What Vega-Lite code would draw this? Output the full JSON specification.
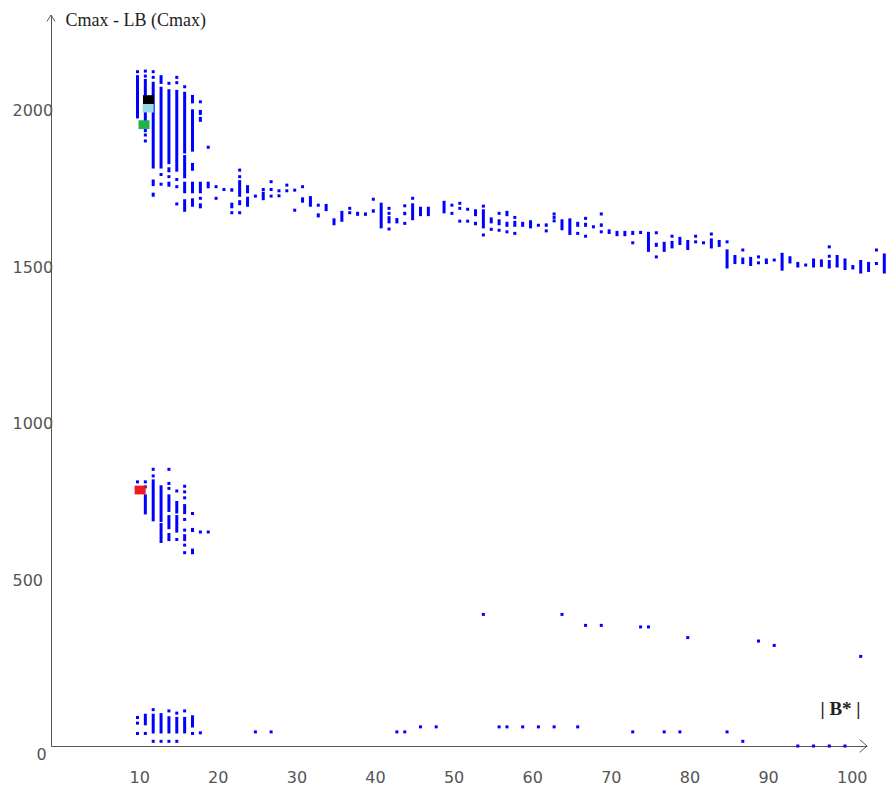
{
 "$schema": "https://vega.github.io/schema/vega-lite/v6.json",
 "width": 816,
 "height": 731,
 "autosize": {"type": "none"},
 "padding": {"left": 51, "top": 15, "right": 21, "bottom": 44},
 "background": "white",
 "config": {"view": {"stroke": null}},
 "datasets": {
  "pts": [
   {"x":10,"y":2152,"y2":2152},{"x":10,"y":2141,"y2":2003},
   {"x":11,"y":2154,"y2":2154},{"x":11,"y":2138,"y2":2138},{"x":11,"y":2129,"y2":1959},{"x":11,"y":1950,"y2":1950},{"x":11,"y":1931,"y2":1931},
   {"x":12,"y":2152,"y2":2152},{"x":12,"y":2134,"y2":2134},{"x":12,"y":2120,"y2":1843},{"x":12,"y":1808,"y2":1787},{"x":12,"y":1766,"y2":1753},
   {"x":13,"y":2141,"y2":2113},{"x":13,"y":2104,"y2":1843},{"x":13,"y":1824,"y2":1824},{"x":13,"y":1793,"y2":1793},
   {"x":14,"y":2115,"y2":2115},{"x":14,"y":2096,"y2":1857},{"x":14,"y":1847,"y2":1831},{"x":14,"y":1817,"y2":1817},{"x":14,"y":1801,"y2":1785},
   {"x":15,"y":2134,"y2":2134},{"x":15,"y":2117,"y2":2117},{"x":15,"y":2094,"y2":1833},{"x":15,"y":1808,"y2":1808},{"x":15,"y":1785,"y2":1785},{"x":15,"y":1730,"y2":1730},
   {"x":16,"y":2104,"y2":2104},{"x":16,"y":2088,"y2":1891},{"x":16,"y":1886,"y2":1812},{"x":16,"y":1801,"y2":1764},{"x":16,"y":1745,"y2":1705},
   {"x":17,"y":2078,"y2":2051},{"x":17,"y":2032,"y2":1897},{"x":17,"y":1861,"y2":1836},{"x":17,"y":1801,"y2":1764},{"x":17,"y":1748,"y2":1721},
   {"x":18,"y":2056,"y2":2056},{"x":18,"y":2030,"y2":2014},{"x":18,"y":2008,"y2":1992},{"x":18,"y":1801,"y2":1764},{"x":18,"y":1748,"y2":1748},{"x":18,"y":1732,"y2":1716},
   {"x":19,"y":1911,"y2":1911},{"x":19,"y":1801,"y2":1780},
   {"x":20,"y":1785,"y2":1785},{"x":20,"y":1748,"y2":1748},
   {"x":21,"y":1776,"y2":1776},
   {"x":22,"y":1780,"y2":1769},{"x":22,"y":1734,"y2":1716},{"x":22,"y":1702,"y2":1702},
   {"x":23,"y":1838,"y2":1838},{"x":23,"y":1817,"y2":1817},{"x":23,"y":1806,"y2":1753},{"x":23,"y":1742,"y2":1726},{"x":23,"y":1702,"y2":1702},
   {"x":24,"y":1790,"y2":1764},{"x":24,"y":1753,"y2":1721},
   {"x":25,"y":1755,"y2":1755},
   {"x":26,"y":1776,"y2":1776},{"x":26,"y":1769,"y2":1742},
   {"x":27,"y":1801,"y2":1801},{"x":27,"y":1776,"y2":1776},{"x":27,"y":1755,"y2":1755},
   {"x":28,"y":1772,"y2":1772},{"x":28,"y":1756,"y2":1756},
   {"x":29,"y":1790,"y2":1790},{"x":29,"y":1772,"y2":1772},
   {"x":30,"y":1774,"y2":1774},{"x":30,"y":1710,"y2":1710},
   {"x":31,"y":1785,"y2":1785},{"x":31,"y":1751,"y2":1734},
   {"x":32,"y":1755,"y2":1721},
   {"x":33,"y":1726,"y2":1726},{"x":33,"y":1700,"y2":1687},
   {"x":34,"y":1730,"y2":1707},
   {"x":35,"y":1684,"y2":1662},
   {"x":36,"y":1708,"y2":1673},
   {"x":37,"y":1716,"y2":1716},{"x":37,"y":1702,"y2":1702},
   {"x":38,"y":1705,"y2":1692},
   {"x":39,"y":1703,"y2":1692},
   {"x":40,"y":1745,"y2":1745},{"x":40,"y":1713,"y2":1702},
   {"x":41,"y":1734,"y2":1652},
   {"x":42,"y":1716,"y2":1716},{"x":42,"y":1700,"y2":1700},{"x":42,"y":1691,"y2":1668},{"x":42,"y":1650,"y2":1650},
   {"x":43,"y":1685,"y2":1668},
   {"x":44,"y":1724,"y2":1724},{"x":44,"y":1705,"y2":1694},{"x":44,"y":1668,"y2":1668},
   {"x":45,"y":1748,"y2":1748},{"x":45,"y":1732,"y2":1678},
   {"x":46,"y":1721,"y2":1691},
   {"x":47,"y":1721,"y2":1691},
   {"x":49,"y":1740,"y2":1700},
   {"x":50,"y":1726,"y2":1726},{"x":50,"y":1700,"y2":1700},
   {"x":51,"y":1732,"y2":1732},{"x":51,"y":1716,"y2":1716},{"x":51,"y":1675,"y2":1675},
   {"x":52,"y":1713,"y2":1713},{"x":52,"y":1675,"y2":1675},
   {"x":53,"y":1713,"y2":1691},{"x":53,"y":1673,"y2":1662},
   {"x":54,"y":1723,"y2":1723},{"x":54,"y":1713,"y2":1652},{"x":54,"y":1631,"y2":1631},
   {"x":55,"y":1687,"y2":1668},{"x":55,"y":1649,"y2":1649},
   {"x":56,"y":1700,"y2":1700},{"x":56,"y":1681,"y2":1662},{"x":56,"y":1646,"y2":1646},
   {"x":57,"y":1708,"y2":1691},{"x":57,"y":1673,"y2":1657},{"x":57,"y":1641,"y2":1641},
   {"x":58,"y":1687,"y2":1687},{"x":58,"y":1676,"y2":1657},{"x":58,"y":1636,"y2":1636},
   {"x":59,"y":1673,"y2":1657},
   {"x":60,"y":1678,"y2":1652},
   {"x":61,"y":1662,"y2":1662},
   {"x":62,"y":1668,"y2":1657},{"x":62,"y":1644,"y2":1644},
   {"x":63,"y":1698,"y2":1698},{"x":63,"y":1687,"y2":1687},{"x":63,"y":1676,"y2":1676},
   {"x":64,"y":1681,"y2":1646},
   {"x":65,"y":1684,"y2":1631},
   {"x":66,"y":1673,"y2":1657},{"x":66,"y":1636,"y2":1636},
   {"x":67,"y":1684,"y2":1684},{"x":67,"y":1670,"y2":1657},{"x":67,"y":1627,"y2":1627},
   {"x":68,"y":1657,"y2":1657},
   {"x":69,"y":1698,"y2":1698},{"x":69,"y":1668,"y2":1657},{"x":69,"y":1641,"y2":1641},
   {"x":70,"y":1649,"y2":1634},
   {"x":71,"y":1644,"y2":1627},
   {"x":72,"y":1644,"y2":1627},
   {"x":73,"y":1644,"y2":1631},{"x":73,"y":1606,"y2":1606},
   {"x":74,"y":1644,"y2":1634},
   {"x":75,"y":1641,"y2":1577},
   {"x":76,"y":1638,"y2":1638},{"x":76,"y":1606,"y2":1593},{"x":76,"y":1561,"y2":1561},
   {"x":77,"y":1609,"y2":1577},
   {"x":78,"y":1627,"y2":1627},{"x":78,"y":1612,"y2":1588},
   {"x":79,"y":1625,"y2":1599},
   {"x":80,"y":1615,"y2":1583},
   {"x":81,"y":1627,"y2":1627},{"x":81,"y":1609,"y2":1609},
   {"x":82,"y":1606,"y2":1606},
   {"x":83,"y":1634,"y2":1634},{"x":83,"y":1620,"y2":1588},
   {"x":84,"y":1615,"y2":1593},
   {"x":85,"y":1609,"y2":1609},{"x":85,"y":1585,"y2":1524},
   {"x":86,"y":1567,"y2":1538},
   {"x":87,"y":1583,"y2":1583},{"x":87,"y":1559,"y2":1538},
   {"x":88,"y":1561,"y2":1532},
   {"x":89,"y":1561,"y2":1561},{"x":89,"y":1542,"y2":1542},
   {"x":90,"y":1556,"y2":1538},
   {"x":91,"y":1551,"y2":1551},
   {"x":92,"y":1574,"y2":1517},
   {"x":93,"y":1563,"y2":1540},
   {"x":94,"y":1545,"y2":1527},
   {"x":95,"y":1535,"y2":1535},
   {"x":96,"y":1556,"y2":1527},
   {"x":97,"y":1553,"y2":1529},
   {"x":98,"y":1593,"y2":1593},{"x":98,"y":1563,"y2":1563},{"x":98,"y":1551,"y2":1524},
   {"x":99,"y":1567,"y2":1527},
   {"x":100,"y":1556,"y2":1519},
   {"x":101,"y":1535,"y2":1521},
   {"x":102,"y":1551,"y2":1508},
   {"x":103,"y":1545,"y2":1513},
   {"x":104,"y":1583,"y2":1583},{"x":104,"y":1540,"y2":1540},
   {"x":105,"y":1572,"y2":1508},
   {"x":10,"y":843,"y2":843},
   {"x":11,"y":843,"y2":843},{"x":11,"y":827,"y2":827},{"x":11,"y":803,"y2":739},
   {"x":12,"y":883,"y2":883},{"x":12,"y":862,"y2":862},{"x":12,"y":851,"y2":717},
   {"x":13,"y":832,"y2":715},{"x":13,"y":712,"y2":648},
   {"x":14,"y":883,"y2":883},{"x":14,"y":838,"y2":838},{"x":14,"y":822,"y2":822},{"x":14,"y":803,"y2":747},{"x":14,"y":737,"y2":692},{"x":14,"y":680,"y2":654},
   {"x":15,"y":814,"y2":814},{"x":15,"y":782,"y2":742},{"x":15,"y":737,"y2":681},{"x":15,"y":659,"y2":659},
   {"x":16,"y":829,"y2":829},{"x":16,"y":811,"y2":811},{"x":16,"y":792,"y2":792},{"x":16,"y":772,"y2":740},{"x":16,"y":723,"y2":723},{"x":16,"y":689,"y2":689},{"x":16,"y":676,"y2":654},{"x":16,"y":641,"y2":641},{"x":16,"y":617,"y2":617},
   {"x":17,"y":742,"y2":742},{"x":17,"y":696,"y2":683},{"x":17,"y":630,"y2":612},
   {"x":18,"y":683,"y2":683},
   {"x":19,"y":683,"y2":683},
   {"x":54,"y":420,"y2":420},{"x":64,"y":420,"y2":420},{"x":67,"y":385,"y2":385},{"x":69,"y":385,"y2":385},{"x":74,"y":380,"y2":380},{"x":75,"y":380,"y2":380},{"x":80,"y":346,"y2":346},{"x":89,"y":335,"y2":335},{"x":91,"y":321,"y2":321},{"x":102,"y":286,"y2":286},
   {"x":10,"y":91,"y2":91},{"x":10,"y":73,"y2":73},{"x":10,"y":40,"y2":40},
   {"x":11,"y":103,"y2":66},{"x":11,"y":40,"y2":40},
   {"x":12,"y":116,"y2":116},{"x":12,"y":103,"y2":40},{"x":12,"y":15,"y2":15},
   {"x":13,"y":105,"y2":40},{"x":13,"y":15,"y2":15},
   {"x":14,"y":112,"y2":112},{"x":14,"y":95,"y2":40},{"x":14,"y":15,"y2":15},
   {"x":15,"y":105,"y2":105},{"x":15,"y":93,"y2":40},{"x":15,"y":15,"y2":15},
   {"x":16,"y":112,"y2":112},{"x":16,"y":93,"y2":40},
   {"x":17,"y":98,"y2":59},{"x":17,"y":40,"y2":40},
   {"x":18,"y":42,"y2":42},
   {"x":25,"y":45,"y2":45},{"x":27,"y":45,"y2":45},
   {"x":43,"y":45,"y2":45},{"x":44,"y":45,"y2":45},{"x":46,"y":61,"y2":61},{"x":48,"y":61,"y2":61},{"x":56,"y":61,"y2":61},{"x":57,"y":61,"y2":61},{"x":59,"y":61,"y2":61},{"x":61,"y":61,"y2":61},{"x":63,"y":61,"y2":61},{"x":66,"y":61,"y2":61},
   {"x":73,"y":45,"y2":45},{"x":77,"y":45,"y2":45},{"x":79,"y":45,"y2":45},{"x":85,"y":45,"y2":45},{"x":87,"y":15,"y2":15},
   {"x":94,"y":0,"y2":0},{"x":96,"y":0,"y2":0},{"x":98,"y":0,"y2":0},{"x":100,"y":0,"y2":0}
  ],
  "refs": [
   {"x":11.36,"y":2036,"series":"B"},
   {"x":11.4,"y":2063,"series":"A"},
   {"x":10.83,"y":1983,"series":"C"},
   {"x":10.34,"y":817,"series":"D"}
  ],
  "arrows": [
   {"x":-1,"y":2333,"dir":"up"},
   {"x":102.8,"y":0,"dir":"right"}
  ]
 },
 "encoding": {
  "x": {
   "field": "x", "type": "quantitative",
   "scale": {"domain": [-1, 102.8], "nice": false, "zero": false},
   "axis": {
    "title": "| B* |",
    "values": [10,20,30,40,50,60,70,80,90,100],
    "format": "d",
    "grid": false, "ticks": false, "tickSize": 0,
    "domainColor": "#555555", "domainWidth": 1,
    "labelFont": "DejaVu Sans", "labelFontSize": 16, "labelColor": "#555555",
    "labelAlign": "left", "labelOffset": -8.5, "labelBaseline": "top", "labelPadding": 23,
    "labelFlush": false, "labelOverlap": false,
    "titleFont": "Liberation Serif", "titleFontSize": 19, "titleFontWeight": "bold", "titleColor": "#222222",
    "titleX": 789, "titleY": -38, "titleAlign": "center", "titleBaseline": "middle"
   }
  },
  "y": {
   "field": "y", "type": "quantitative",
   "scale": {"domain": [0, 2333], "nice": false, "zero": false},
   "axis": {
    "title": "Cmax - LB (Cmax)",
    "values": [0,500,1000,1500,2000],
    "format": "d",
    "grid": false, "ticks": false, "tickSize": 0,
    "domainColor": "#555555", "domainWidth": 1,
    "labelFont": "DejaVu Sans", "labelFontSize": 16, "labelColor": "#555555",
    "labelAlign": "left", "labelBaseline": "middle",
    "labelPadding": {"condition": {"test": "datum.value === 0", "value": 15}, "value": 39},
    "labelOffset": {"condition": {"test": "datum.value === 0", "value": 8}, "value": -9},
    "labelFlush": false, "labelOverlap": false,
    "titleAngle": 0, "titleAlign": "left", "titleBaseline": "middle",
    "titleX": 14, "titleY": 5,
    "titleFont": "Liberation Serif", "titleFontSize": 18, "titleFontWeight": "normal", "titleColor": "#222222"
   }
  }
 },
 "layer": [
  {
   "data": {"name": "pts"},
   "transform": [{"filter": "datum.y != datum.y2"}],
   "mark": {"type": "rule", "color": "#0000ff", "strokeWidth": 3, "strokeCap": "butt"},
   "encoding": {"y2": {"field": "y2"}}
  },
  {
   "data": {"name": "pts"},
   "transform": [{"filter": "datum.y == datum.y2"}],
   "mark": {"type": "point", "shape": "square", "filled": true, "size": 9, "color": "#0000ff", "opacity": 1, "strokeWidth": 0}
  },
  {
   "data": {"name": "refs"},
   "mark": {"type": "point", "shape": "M-1,-0.8H1V0.8H-1Z", "filled": true, "size": 121, "opacity": 1, "strokeWidth": 0},
   "encoding": {
    "color": {"field": "series", "type": "nominal", "scale": {"domain": ["A","B","C","D"], "range": ["#000000","#99d9ea","#22b14c","#ed1c24"]}, "legend": null}
   }
  },
  {
   "data": {"name": "arrows"},
   "transform": [{"filter": "datum.dir == 'up'"}],
   "mark": {"type": "point", "shape": "M-1,1.6L0,0L1,1.6", "filled": false, "size": 64, "stroke": "#555555", "strokeWidth": 1, "opacity": 1}
  },
  {
   "data": {"name": "arrows"},
   "transform": [{"filter": "datum.dir == 'right'"}],
   "mark": {"type": "point", "shape": "M-1.15,-1L0,0L-1.15,1", "filled": false, "size": 161, "stroke": "#555555", "strokeWidth": 1, "opacity": 1}
  }
 ]
}
